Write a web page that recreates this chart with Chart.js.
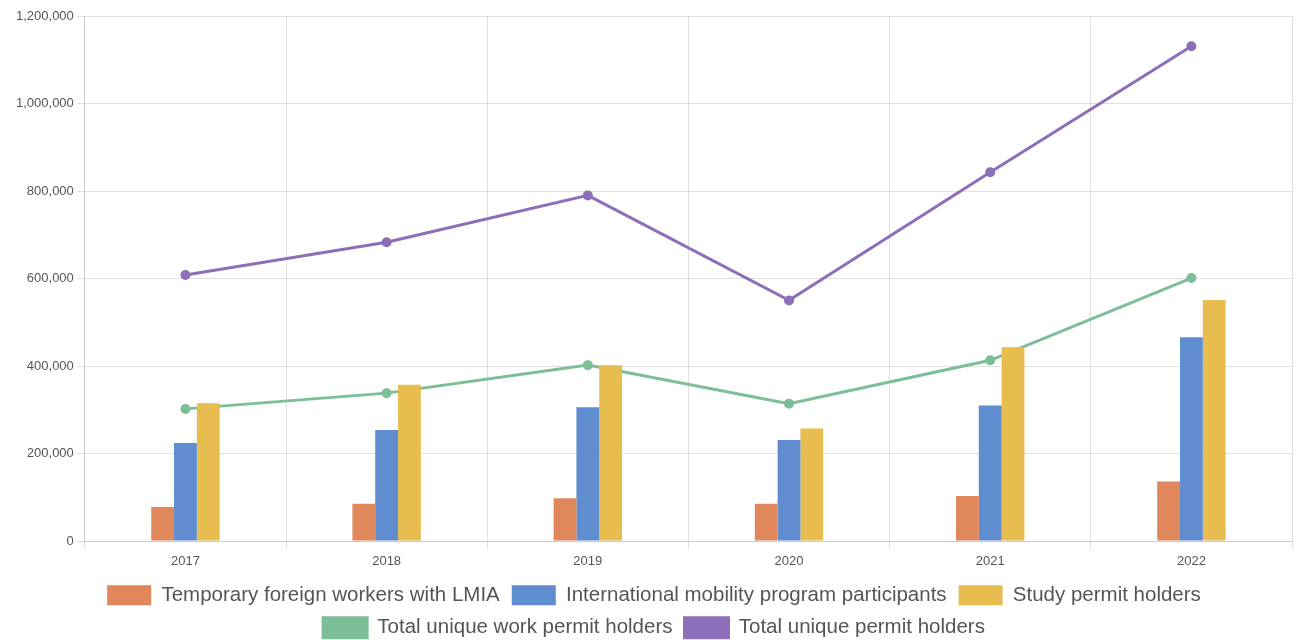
<!DOCTYPE html>
<html>
<head>
<meta charset="utf-8">
<script src="https://cdn.jsdelivr.net/npm/chart.js@4.4.1/dist/chart.umd.min.js"></script>
<style>
html,body{margin:0;padding:0;background:#fff;}
#wrap{width:1299px;height:641px;position:relative;}
</style>
</head>
<body>
<div id="wrap"><canvas id="c"></canvas></div>
<script>
const categories = ["2017", "2018", "2019", "2020", "2021", "2022"];
const tfwLmia = [78000, 85000, 98000, 85000, 103000, 136000];
const impParticipants = [224000, 254000, 306000, 231000, 310000, 466000];
const studyPermit = [315000, 357000, 402000, 257000, 443000, 551000];
const totalWork = [302000, 338000, 402000, 314000, 413000, 601000];
const totalPermit = [608000, 683000, 790000, 550000, 843000, 1131000];
const seriesNames = [
  "Temporary foreign workers with LMIA",
  "International mobility program participants",
  "Study permit holders",
  "Total unique work permit holders",
  "Total unique permit holders"
];
const colors = ["#e0875b", "#5f8dcf", "#e7bd50", "#7cbe98", "#8d6fb9"];

const barCommon = {type: 'bar', categoryPercentage: 0.34, barPercentage: 1.0, borderWidth: 0};
const lineCommon = {type: 'line', borderWidth: 3, pointRadius: 3.5, pointHoverRadius: 4, tension: 0, fill: false};

new Chart(document.getElementById('c'), {
  data: {
    labels: categories,
    datasets: [
      Object.assign({label: seriesNames[0], data: tfwLmia, backgroundColor: colors[0], borderColor: colors[0]}, barCommon),
      Object.assign({label: seriesNames[1], data: impParticipants, backgroundColor: colors[1], borderColor: colors[1]}, barCommon),
      Object.assign({label: seriesNames[2], data: studyPermit, backgroundColor: colors[2], borderColor: colors[2]}, barCommon),
      Object.assign({label: seriesNames[3], data: totalWork, backgroundColor: colors[3], borderColor: colors[3]}, lineCommon),
      Object.assign({label: seriesNames[4], data: totalPermit, backgroundColor: colors[4], borderColor: colors[4]}, lineCommon)
    ]
  },
  options: {
    responsive: true,
    maintainAspectRatio: false,
    animation: false,
    layout: {padding: {left: 13, right: 4, top: 16, bottom: -7}},
    scales: {
      x: {
        ticks: {color: '#555', padding: 5.5, font: {family: 'Liberation Sans, Arial', size: 13, lineHeight: 1.0}},
        grid: {color: 'rgba(0,0,0,0.12)'}
      },
      y: {
        min: 0, max: 1200000,
        ticks: {stepSize: 200000, color: '#555', font: {family: 'Liberation Sans, Arial', size: 13}},
        grid: {color: 'rgba(0,0,0,0.12)'}
      }
    },
    plugins: {
      legend: {
        position: 'bottom',
        labels: {
          boxWidth: 44, boxHeight: 20,
          color: '#555',
          font: {family: 'Liberation Sans, Arial', size: 20.5},
          padding: 12
        }
      },
      tooltip: {enabled: false}
    }
  }
});
</script>
</body>
</html>
